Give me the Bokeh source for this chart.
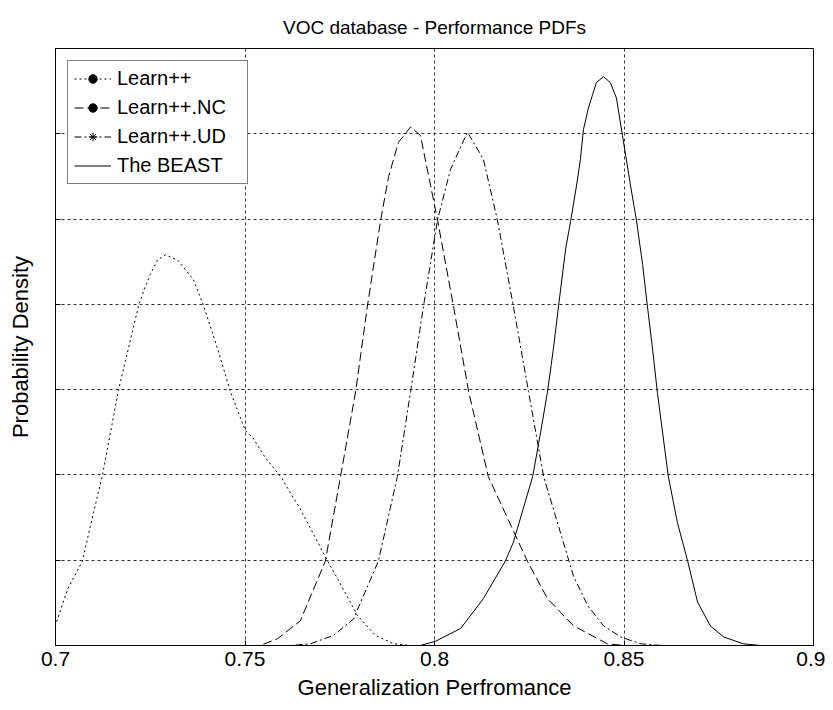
from bokeh.plotting import figure
from bokeh.models import Legend, LegendItem, FixedTicker, Range1d
from bokeh.embed import file_html
from bokeh.resources import INLINE

# ---- data ----
learn_x = [0.7003, 0.7032, 0.7071, 0.7092, 0.7124, 0.7166, 0.7219, 0.7232, 0.7250, 0.7269,
           0.7290, 0.7322, 0.7364, 0.7391, 0.7427, 0.7462, 0.7501, 0.7520, 0.7554, 0.7594,
           0.7646, 0.7718, 0.7752, 0.7797, 0.7844, 0.7892, 0.7937, 0.9000]
learn_y = [0.28, 0.66, 0.99, 1.40, 2.00, 2.99, 3.98, 4.15, 4.35, 4.52,
           4.58, 4.52, 4.29, 3.98, 3.49, 2.97, 2.52, 2.44, 2.20, 1.98,
           1.60, 0.99, 0.72, 0.35, 0.12, 0.02, 0.00, 0.00]

nc_x = [0.7000, 0.7541, 0.7586, 0.7646, 0.7712, 0.7752, 0.7792, 0.7823, 0.7858, 0.7879,
        0.7905, 0.7937, 0.7963, 0.8008, 0.8050, 0.8090, 0.8142, 0.8245, 0.8298, 0.8367,
        0.8456, 0.8500, 0.9000]
nc_y = [0.00, 0.00, 0.08, 0.29, 0.99, 1.98, 2.98, 3.98, 4.99, 5.50,
        5.90, 6.08, 5.98, 4.99, 3.98, 2.98, 1.98, 0.99, 0.55, 0.23,
        0.02, 0.00, 0.00]

ud_x = [0.7000, 0.7620, 0.7673, 0.7734, 0.7786, 0.7852, 0.7902, 0.7937, 0.7971, 0.8008,
        0.8042, 0.8087, 0.8129, 0.8166, 0.8208, 0.8248, 0.8288, 0.8340, 0.8367, 0.8404,
        0.8446, 0.8491, 0.8544, 0.8600, 0.9000]
ud_y = [0.00, 0.00, 0.02, 0.12, 0.31, 0.99, 1.98, 2.98, 3.98, 4.99,
        5.58, 6.02, 5.70, 4.99, 3.98, 2.98, 1.98, 1.21, 0.81, 0.47,
        0.23, 0.10, 0.02, 0.00, 0.00]

beast_x = [0.7000, 0.7963, 0.8003, 0.8069, 0.8129, 0.8187, 0.8208, 0.8259, 0.8280, 0.8298,
           0.8314, 0.8327, 0.8346, 0.8359, 0.8375, 0.8385, 0.8393, 0.8406, 0.8427, 0.8446,
           0.8464, 0.8480, 0.8496, 0.8517, 0.8533, 0.8549, 0.8562, 0.8575, 0.8588, 0.8617,
           0.8641, 0.8668, 0.8694, 0.8728, 0.8763, 0.8815, 0.8860, 0.9000]
beast_y = [0.00, 0.00, 0.05, 0.20, 0.55, 0.99, 1.21, 1.98, 2.50, 2.97,
           3.49, 3.97, 4.65, 4.97, 5.40, 5.70, 6.05, 6.30, 6.60, 6.67,
           6.60, 6.42, 5.98, 5.40, 4.98, 4.47, 3.97, 3.49, 2.97, 1.98,
           1.44, 0.99, 0.51, 0.23, 0.10, 0.02, 0.00, 0.00]

labels = ["Learn++", "Learn++.NC", "Learn++.UD", "The BEAST"]
x_ticks = [0.7, 0.75, 0.8, 0.85, 0.9]
x_tick_labels = ["0.7", "0.75", "0.8", "0.85", "0.9"]
y_ticks = [0, 1, 2, 3, 4, 5, 6, 7]

FONT = "Liberation Sans"

p = figure(width=825, height=702, output_backend="svg", toolbar_location=None,
           x_range=Range1d(0.7, 0.9), y_range=Range1d(0, 7),
           title="VOC database - Performance PDFs",
           min_border_left=55, min_border_right=12, min_border_top=48, min_border_bottom=55)

p.title.align = "center"
p.title.text_font = FONT
p.title.text_font_size = "19px"
p.title.text_font_style = "normal"
p.title.text_color = "black"
p.title.standoff = 22

p.background_fill_color = "white"
p.border_fill_color = "white"
p.outline_line_color = "black"
p.outline_line_width = 1

p.xaxis.ticker = FixedTicker(ticks=x_ticks)
p.xaxis.major_label_overrides = dict(zip(x_ticks, x_tick_labels))
p.yaxis.ticker = FixedTicker(ticks=y_ticks)
p.yaxis.major_label_overrides = {t: "" for t in y_ticks}
p.yaxis.major_label_standoff = 0

for ax in (p.xaxis[0], p.yaxis[0]):
    ax.axis_line_color = "black"
    ax.major_tick_in = 5
    ax.major_tick_out = 0
    ax.minor_tick_line_color = None
    ax.major_tick_line_color = "black"
    ax.axis_label_text_font = FONT
    ax.axis_label_text_font_style = "normal"
    ax.axis_label_text_font_size = "22px"
    ax.axis_label_text_color = "black"

p.xaxis.major_label_text_font = FONT
p.xaxis.major_label_text_font_size = "21px"
p.xaxis.major_label_text_color = "black"
p.xaxis.major_label_standoff = 6
p.xaxis.axis_label = "Generalization Perfromance"
p.xaxis.axis_label_standoff = 6
p.yaxis.axis_label = "Probability Density"
p.yaxis.axis_label_standoff = 23

p.xgrid.grid_line_color = "black"
p.xgrid.grid_line_dash = "3 3"
p.xgrid.grid_line_alpha = 0.8
p.ygrid.grid_line_color = "black"
p.ygrid.grid_line_dash = "3 3"
p.ygrid.grid_line_alpha = 0.8

nan = float("nan")
r1 = p.line(learn_x, learn_y, line_color="black", line_width=1, line_dash="2 3")
r2 = p.line(nc_x, nc_y, line_color="black", line_width=1, line_dash="9 4")
r3 = p.line(ud_x, ud_y, line_color="black", line_width=1, line_dash="7 3 2 3")
r4 = p.line(beast_x, beast_y, line_color="black", line_width=1)

m1 = p.scatter([nan], [nan], marker="circle", size=4, color="black")
m2 = p.scatter([nan], [nan], marker="circle", size=4, color="black")
m3 = p.scatter([nan], [nan], marker="asterisk", size=6, line_color="black")

legend = Legend(items=[
    LegendItem(label=labels[0], renderers=[r1, m1]),
    LegendItem(label=labels[1], renderers=[r2, m2]),
    LegendItem(label=labels[2], renderers=[r3, m3]),
    LegendItem(label=labels[3], renderers=[r4]),
], location="top_left")
legend.margin = 12
legend.padding = 6
legend.spacing = 6
legend.glyph_width = 37
legend.glyph_height = 21
legend.label_height = 21
legend.label_width = 124
legend.label_standoff = 6
legend.label_text_font = FONT
legend.label_text_font_size = "20px"
legend.label_text_color = "black"
legend.border_line_color = "black"
legend.border_line_width = 1
legend.background_fill_color = "white"
legend.background_fill_alpha = 1
p.add_layout(legend, "center")

open("out.html", "w").write(file_html(p, INLINE))
